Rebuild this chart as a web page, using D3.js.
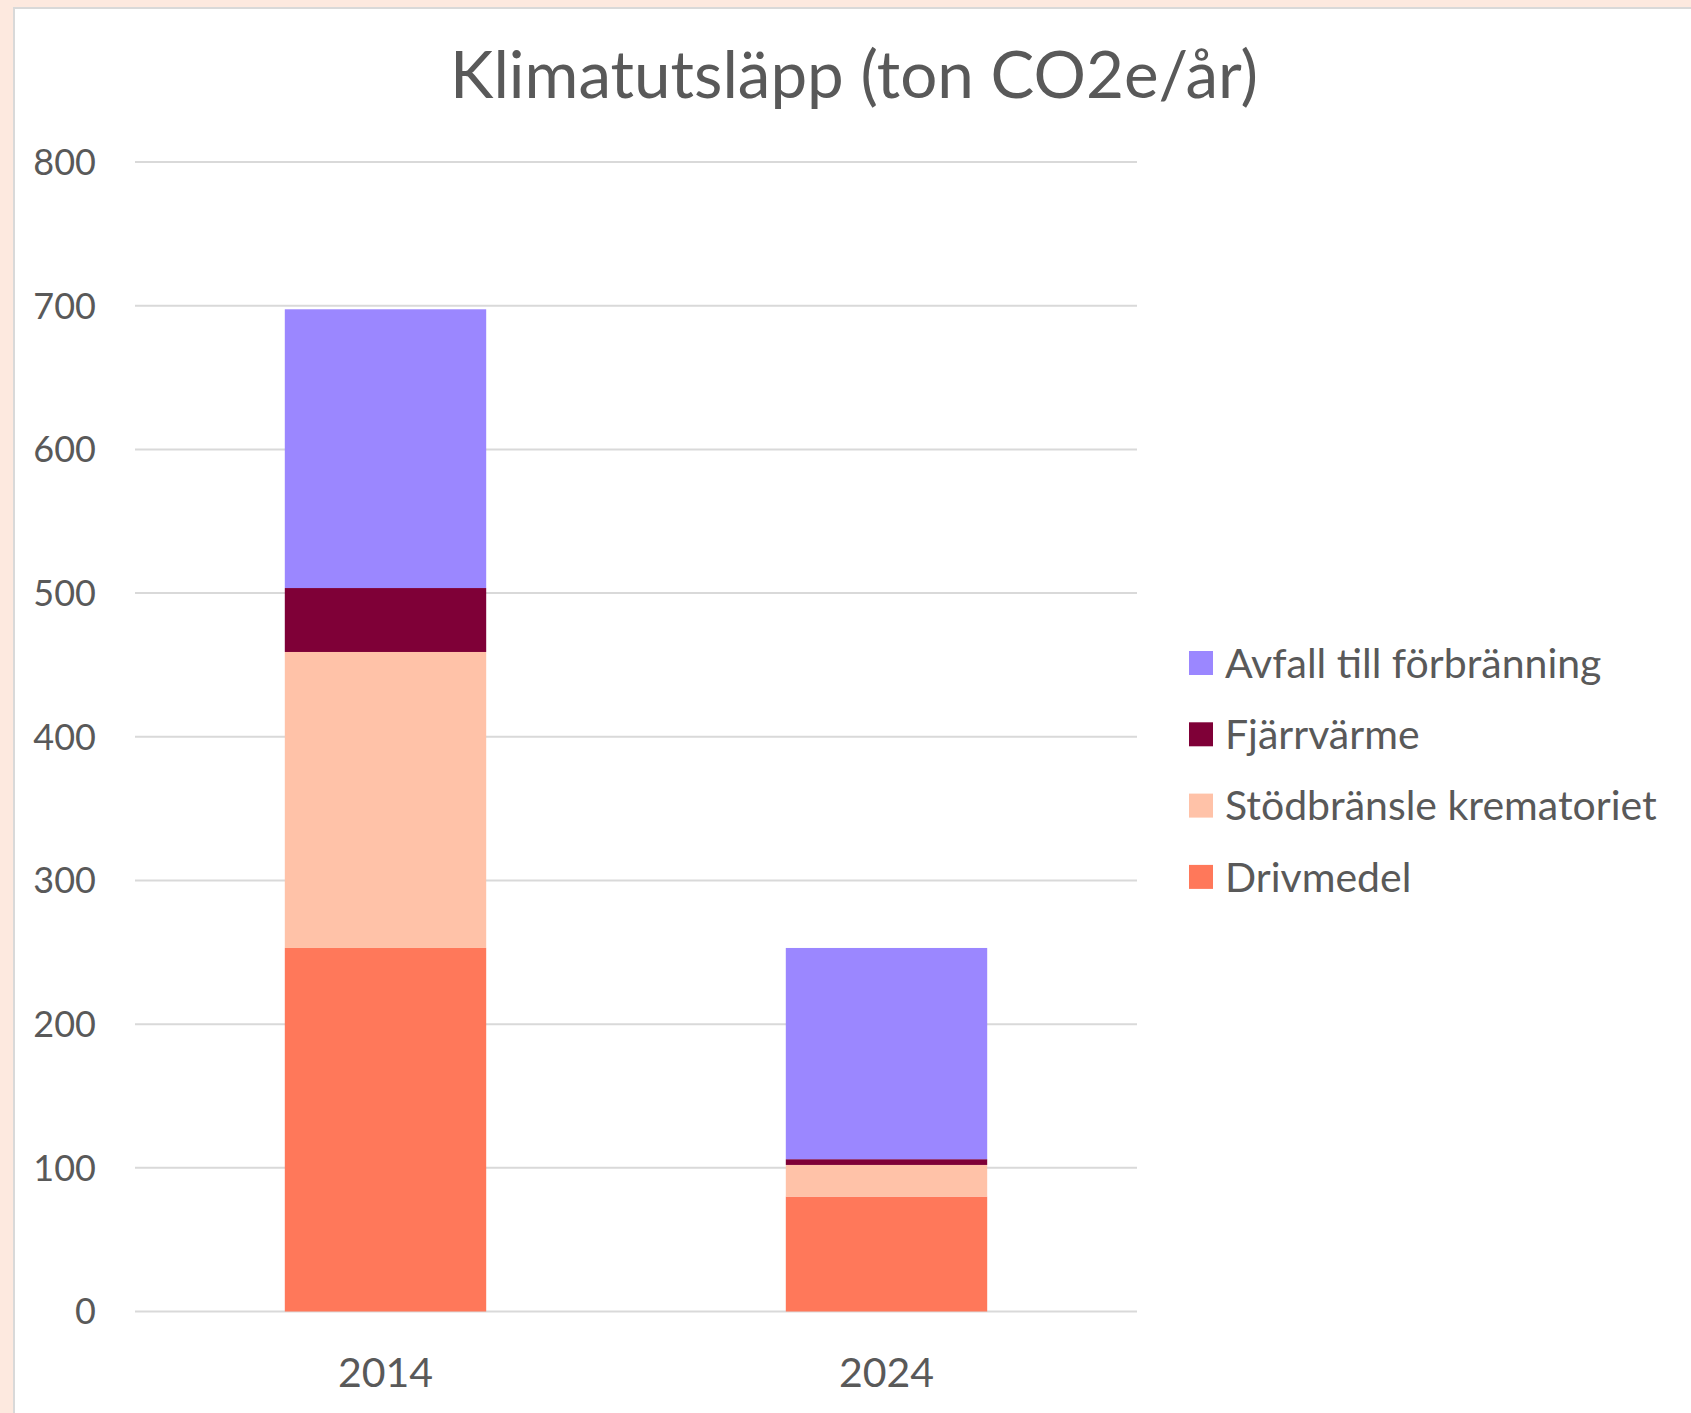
<!DOCTYPE html>
<html>
<head>
<meta charset="utf-8">
<script src="https://cdn.jsdelivr.net/npm/d3@7"></script>
<style>
  html, body { margin: 0; padding: 0; background: #fde9df; }
  svg { display: block; }
</style>
</head>
<body>
<svg id="chart" width="1691" height="1413"></svg>
<script>
var years = ["2014", "2024"]
var seriesNames = ["Drivmedel", "Stödbränsle krematoriet", "Fjärrvärme", "Avfall till förbränning"]
var drivmedel = [253, 80]
var stodbransle = [206, 22]
var fjarrvarme = [44.5, 4]
var avfall = [194, 147]
var yTicks = [0, 100, 200, 300, 400, 500, 600, 700, 800]
var colors = ["#ff785a", "#ffc2a8", "#7f0037", "#9b87ff"]

var textColor = "#595959"
var fontFamily = "Lato, 'Open Sans', sans-serif"

var svg = d3.select("#chart")

// white chart panel with light border on top/left
svg.append("rect")
  .attr("x", 14)
  .attr("y", 8)
  .attr("width", 1691)
  .attr("height", 1420)
  .attr("fill", "#ffffff")
  .attr("stroke", "#d9d9d9")
  .attr("stroke-width", 2)

var plot = { left: 135, right: 1137, top: 162, bottom: 1311.5 }

var x = d3.scaleBand()
  .domain(years)
  .range([plot.left, plot.right])
  .paddingInner(0.598)
  .paddingOuter(0.299)

var y = d3.scaleLinear()
  .domain([0, 800])
  .range([plot.bottom, plot.top])

// gridlines
svg.append("g")
  .selectAll("line")
  .data(yTicks)
  .join("line")
  .attr("x1", plot.left)
  .attr("x2", plot.right)
  .attr("y1", function (d) { return y(d) })
  .attr("y2", function (d) { return y(d) })
  .attr("stroke", "#d9d9d9")
  .attr("stroke-width", 2)

// y tick labels
svg.append("g")
  .selectAll("text")
  .data(yTicks)
  .join("text")
  .attr("x", 96)
  .attr("y", function (d) { return y(d) })
  .attr("dy", "0.36em")
  .attr("text-anchor", "end")
  .attr("font-family", fontFamily)
  .attr("font-size", 36)
  .attr("fill", textColor)
  .text(function (d) { return d })

// stacked bars
var rows = years.map(function (yr, i) {
  return {
    year: yr,
    "Drivmedel": drivmedel[i],
    "Stödbränsle krematoriet": stodbransle[i],
    "Fjärrvärme": fjarrvarme[i],
    "Avfall till förbränning": avfall[i]
  }
})

var stacked = d3.stack().keys(seriesNames)(rows)

svg.append("g")
  .selectAll("g")
  .data(stacked)
  .join("g")
  .attr("fill", function (d, i) { return colors[i] })
  .selectAll("rect")
  .data(function (d) { return d })
  .join("rect")
  .attr("x", function (d) { return x(d.data.year) })
  .attr("width", x.bandwidth())
  .attr("y", function (d) { return y(d[1]) })
  .attr("height", function (d) { return y(d[0]) - y(d[1]) })

// x labels
svg.append("g")
  .selectAll("text")
  .data(years)
  .join("text")
  .attr("x", function (d) { return x(d) + x.bandwidth() / 2 })
  .attr("y", 1372)
  .attr("dy", "0.36em")
  .attr("text-anchor", "middle")
  .attr("font-family", fontFamily)
  .attr("font-size", 41)
  .attr("fill", textColor)
  .text(function (d) { return d })

// title
svg.append("text")
  .attr("x", 854)
  .attr("y", 98)
  .attr("text-anchor", "middle")
  .attr("font-family", fontFamily)
  .attr("font-size", 65.5)
  .attr("fill", textColor)
  .text("Klimatutsläpp (ton CO2e/år)")

// legend, top entry is last series
var legendItems = seriesNames.slice().reverse()
var legend = svg.append("g")
  .attr("transform", "translate(1189,663)")

var keys = legend.selectAll("g")
  .data(legendItems)
  .join("g")
  .attr("transform", function (d, i) { return "translate(0," + (i * 71.3) + ")" })

keys.append("rect")
  .attr("x", 0)
  .attr("y", -12)
  .attr("width", 24)
  .attr("height", 24)
  .attr("fill", function (d) { return colors[seriesNames.indexOf(d)] })

keys.append("text")
  .attr("x", 36)
  .attr("y", 0)
  .attr("dy", "0.36em")
  .attr("font-family", fontFamily)
  .attr("font-size", 41)
  .attr("fill", textColor)
  .text(function (d) { return d })
</script>
</body>
</html>
